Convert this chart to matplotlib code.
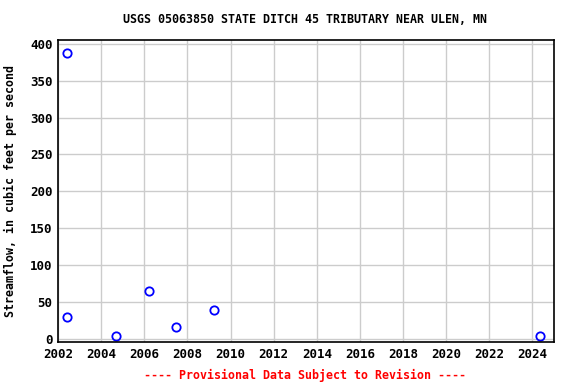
import matplotlib
matplotlib.use("Agg")
import matplotlib.pyplot as plt

# Peak streamflow observations (decimal year, cfs)
years = [2002.42, 2002.42, 2004.69, 2006.22, 2007.48, 2009.24, 2024.37]
flows = [388, 30, 4, 65, 16, 39, 4]

x_ticks = list(range(2002, 2025, 2))
y_ticks = list(range(0, 401, 50))

plt.rcParams['font.family'] = ['DejaVu Sans Mono']
plt.rcParams['font.weight'] = 'bold'

fig = plt.figure(figsize=(5.76, 3.84), dpi=100)
ax = fig.add_axes([0.1007, 0.1094, 0.8611, 0.7864])

ax.plot(years, flows, linestyle='none', marker='o', markersize=6,
        markerfacecolor='none', markeredgecolor='#0000ff', markeredgewidth=1.3)

ax.set_xlim(2002, 2025)
ax.set_ylim(-4, 405)
ax.set_xticks(x_ticks)
ax.set_yticks(y_ticks)
ax.tick_params(labelsize=9, length=0, pad=4)
ax.grid(True, color='#cccccc', linewidth=1)
ax.set_axisbelow(True)
for s in ax.spines.values():
    s.set_linewidth(1.2)

ax.set_ylabel('Streamflow, in cubic feet per second', fontsize=8.4,
              fontweight='bold', labelpad=9)
fig.text(0.53, 0.948, 'USGS 05063850 STATE DITCH 45 TRIBUTARY NEAR ULEN, MN',
         ha='center', va='center', fontsize=8.4, fontweight='bold')
fig.text(0.53, 0.023, '---- Provisional Data Subject to Revision ----',
         ha='center', va='center', fontsize=8.4, fontweight='bold', color='red')

fig.savefig('out.png', dpi=100)
